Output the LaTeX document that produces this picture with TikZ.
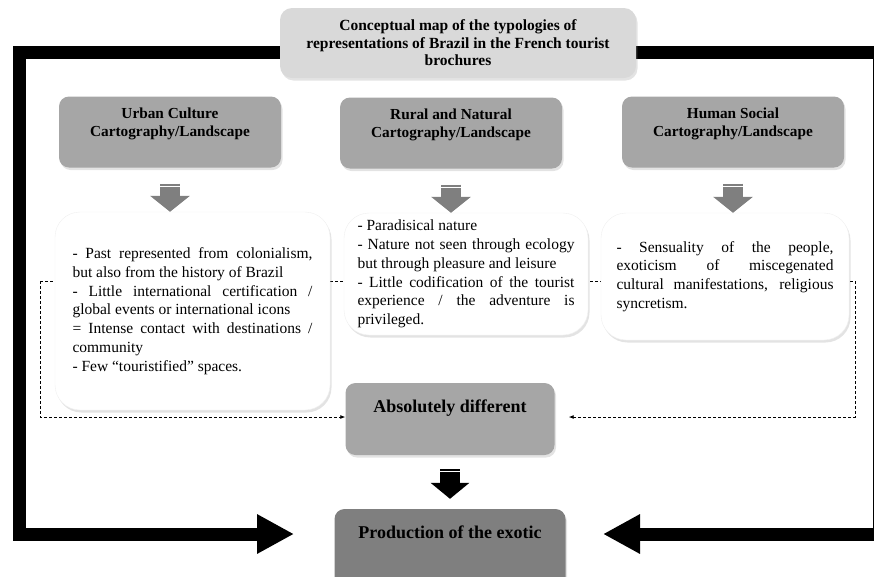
\documentclass[tikz,border=0pt]{standalone}
\usepackage{fontspec}
\setmainfont{Liberation Serif}
\usetikzlibrary{arrows.meta, shadows, backgrounds, decorations.markings}

\definecolor{titlegray}{HTML}{D9D9D9}
\definecolor{boxgray}{HTML}{A6A6A6}
\definecolor{darkgray}{HTML}{7F7F7F}

\begin{document}
\begin{tikzpicture}[x=1pt, y=-1pt,
        softshadow/.style={drop shadow={opacity=0.22, shadow xshift=1.5pt, shadow yshift=-2.5pt}},
        titlebox/.style={fill=titlegray, rounded corners=12pt, minimum width=356pt, minimum height=70pt,
            align=center, font=\fontsize{15.5}{17.5}\selectfont\bfseries, softshadow},
        headbox/.style={fill=boxgray, rounded corners=10pt, minimum width=222pt, minimum height=71pt, softshadow},
        headtext/.style={anchor=north, yshift=-11pt, inner sep=0pt, align=center,
            font=\fontsize{15.3}{18.5}\selectfont\bfseries},
        notebox/.style={fill=white, draw=black!6, rounded corners=25pt, align=justify,
            font=\fontsize{15.5}{18.8}\selectfont, softshadow},
        midbox/.style={fill=boxgray, rounded corners=10pt, minimum width=209pt, minimum height=72pt, softshadow},
        bigtext/.style={anchor=north, yshift=-16.5pt, inner sep=0pt, font=\fontsize{18}{20}\selectfont\bfseries},
        frameline/.style={line width=13pt, -{Triangle[width=37pt,length=37pt]}},
        dotline/.style={densely dashed, line width=0.8pt},
        dotarrow/.style={-{Latex[length=5pt,width=4pt]}},
        stripe/.style={postaction={decorate}, decoration={markings,
            mark=at position 2.5pt with {\draw[white, line width=1pt, -] (0,-11pt) -- (0,11pt);}}},
        grayarrow/.style={draw=darkgray, line width=20pt, -{Triangle[width=39pt,length=16pt]}, stripe},
        blackarrow/.style={draw=black, line width=20pt, -{Triangle[width=38pt,length=16pt]}, stripe}
    ]
    \clip (0,0) rectangle (874,576);

    % title and the three cartographies
    \node[titlebox] (title) at (458,43) {Conceptual map of the typologies of\\representations of Brazil in the French tourist\\brochures};

    \node[headbox, label={[headtext]north:{Urban Culture\\Cartography/Landscape}}] (urban) at (170,132) {};
    \node[headbox, label={[headtext]north:{Rural and Natural\\Cartography/Landscape}}] (rural) at (451,133) {};
    \node[headbox, label={[headtext]north:{Human Social\\Cartography/Landscape}}] (human) at (733,132) {};

    \node[notebox, text width=240pt, inner xsep=17.5pt, minimum height=198pt] (urbannote) at (192.5,311)
        {- Past represented from colonialism,\linebreak but also from the history of Brazil\\
         - Little international certification /\linebreak global events or international icons\\
         = Intense contact with destinations /\linebreak community\\
         - Few “touristified” spaces.};
    \node[notebox, text width=217pt, inner xsep=13.5pt, minimum height=122pt] (ruralnote) at (466,274)
        {- Paradisical nature\\
         - Nature not seen through ecology\linebreak but through pleasure and leisure\\
         - Little codification of the tourist\linebreak experience / the adventure is\linebreak privileged.};
    \node[notebox, text width=217pt, inner xsep=15.5pt, minimum height=127pt] (humannote) at (725,276.5)
        {- Sensuality of the people,\linebreak exoticism of miscegenated\linebreak cultural manifestations, religious\linebreak syncretism.};

    \draw[grayarrow] ([yshift=-16pt]urban.south) -- (urban.south |- urbannote.north);
    \draw[grayarrow] ([yshift=-16pt]rural.south) -- (rural.south |- ruralnote.north);
    \draw[grayarrow] ([yshift=-16pt]human.south) -- (human.south |- humannote.north);

    % result
    \node[midbox, label={[bigtext]north:Absolutely different}] (absd) at (450,419) {};
    \node[midbox, fill=darkgray, minimum width=231pt, minimum height=80pt,
        label={[bigtext]north:Production of the exotic}] (prod) at (450,549) {};

    \draw[blackarrow] ([yshift=-14pt]absd.south) -- ([yshift=10pt]prod.north);

    % dotted links
    \coordinate (dl) at (40,281);
    \coordinate (dr) at (855,281);
    \draw[dotline, dotarrow] (dl) |- ([yshift=2pt]absd.west);
    \draw[dotline, dotarrow, shorten >=14pt] (dr) |- ([yshift=2pt]absd.east);

    % thick frame
    \coordinate (ftl) at (19.5,52);
    \coordinate (fbl) at (19.5,534);
    \coordinate (lend) at (294,534);
    \coordinate (ftr) at (879,52);
    \coordinate (fbr) at (879,534);
    \coordinate (rend) at (603,534);

    \begin{pgfonlayer}{background}
        \draw[dotline] (dl) -- (dr);
        \draw[frameline] (title.center |- ftl) -- (ftl) -- (fbl) -- (lend);
        \draw[frameline] (title.center |- ftr) -- (ftr) -- (fbr) -- (rend);
    \end{pgfonlayer}
\end{tikzpicture}
\end{document}
